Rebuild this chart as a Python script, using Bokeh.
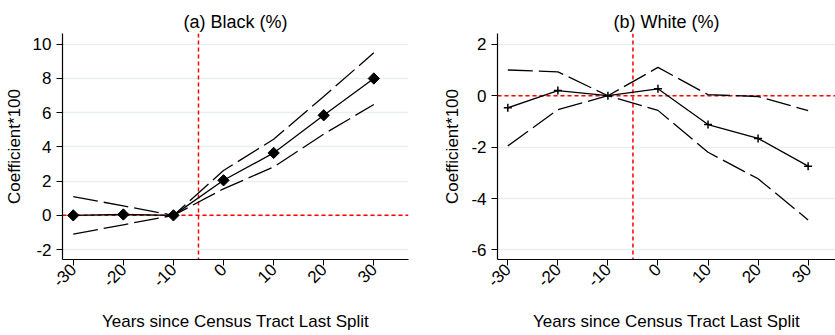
import math
from bokeh.plotting import figure
from bokeh.models import Range1d, FixedTicker, Span
from bokeh.layouts import row
from bokeh.embed import file_html
from bokeh.resources import INLINE

# ---- data ----
years = [-30, -20, -10, 0, 10, 20, 30]
black_coef = [0.0, 0.05, 0.0, 2.05, 3.65, 5.85, 8.0]
black_upper = [1.1, 0.55, 0.0, 2.62, 4.45, 6.95, 9.5]
black_lower = [-1.1, -0.55, 0.0, 1.55, 2.83, 4.75, 6.48]

white_coef = [-0.47, 0.2, 0.0, 0.27, -1.12, -1.66, -2.74]
white_upper = [1.0, 0.93, 0.0, 1.1, 0.04, -0.03, -0.58]
white_lower = [-1.95, -0.54, 0.0, -0.57, -2.2, -3.23, -4.83]

x_ticks = [-30, -20, -10, 0, 10, 20, 30]
black_yticks = [-2, 0, 2, 4, 6, 8, 10]
white_yticks = [-6, -4, -2, 0, 2]

FONT = "Liberation Sans"
HEIGHT = 334
CI_DASH = "25 6"


def make_fig(title, width, border_left, border_right, xr, yr, yticks):
    p = figure(width=width, height=HEIGHT, x_range=Range1d(*xr), y_range=Range1d(*yr),
               output_backend="svg", toolbar_location=None, title=title,
               min_border_left=border_left, min_border_right=border_right,
               min_border_top=33, min_border_bottom=72)
    p.outline_line_color = None
    p.background_fill_color = "white"
    p.border_fill_color = "white"
    p.title.align = "center"
    p.title.text_font = FONT
    p.title.text_font_size = "18px"
    p.title.text_font_style = "normal"
    p.title.text_color = "black"
    p.title.standoff = 3
    p.xgrid.visible = False
    p.ygrid.grid_line_color = "#e6eff2"
    p.ygrid.grid_line_width = 1.5
    for ax in (p.xaxis[0], p.yaxis[0]):
        ax.axis_line_color = "black"
        ax.axis_line_width = 1.2
        ax.major_tick_line_color = "black"
        ax.major_tick_out = 6
        ax.major_tick_in = 0
        ax.minor_tick_line_color = None
        ax.major_label_text_font = FONT
        ax.major_label_text_font_size = "17px"
        ax.major_label_text_color = "black"
        ax.axis_label_text_font = FONT
        ax.axis_label_text_font_size = "17px"
        ax.axis_label_text_font_style = "normal"
        ax.axis_label_text_color = "black"
    p.xaxis.ticker = FixedTicker(ticks=x_ticks)
    p.yaxis.ticker = FixedTicker(ticks=yticks)
    p.xaxis.major_label_overrides = {t: str(t) for t in x_ticks}
    p.yaxis.major_label_overrides = {t: str(t) for t in yticks}
    p.xaxis.major_label_orientation = math.pi / 4
    p.xaxis.major_label_standoff = 1
    p.xaxis.axis_label = "Years since Census Tract Last Split"
    p.xaxis.axis_label_standoff = 17
    p.yaxis.axis_label = "Coefficient*100"
    p.yaxis.axis_label_standoff = 6
    p.add_layout(Span(location=-5, dimension="height", line_color="#ff0000",
                      line_dash="4 3", line_width=1.5, level="underlay"))
    p.add_layout(Span(location=0, dimension="width", line_color="#ff0000",
                      line_dash="4 3", line_width=1.5, level="underlay"))
    return p


p1 = make_fig("(a) Black (%)", 415, 62, 7, (-32.14, 36.92), (-2.58, 10.63), black_yticks)
p1.line(years, black_upper, line_color="black", line_width=1.3, line_dash=CI_DASH)
p1.line(years, black_lower, line_color="black", line_width=1.3, line_dash=CI_DASH)
p1.line(years, black_coef, line_color="black", line_width=1.3)
p1.scatter(years, black_coef, marker="square", angle=math.pi / 4, size=8,
           fill_color="black", line_color="black")

p2 = make_fig("(b) White (%)", 420, 82, 0, (-32.06, 35.47), (-6.37, 2.42), white_yticks)
p2.line(years, white_upper, line_color="black", line_width=1.3, line_dash=CI_DASH)
p2.line(years, white_lower, line_color="black", line_width=1.3, line_dash=CI_DASH)
p2.line(years, white_coef, line_color="black", line_width=1.3)
p2.scatter(years, white_coef, marker="cross", size=8, line_color="black", line_width=1.5)

layout = row(p1, p2)
open("out.html", "w").write(file_html(layout, INLINE))
